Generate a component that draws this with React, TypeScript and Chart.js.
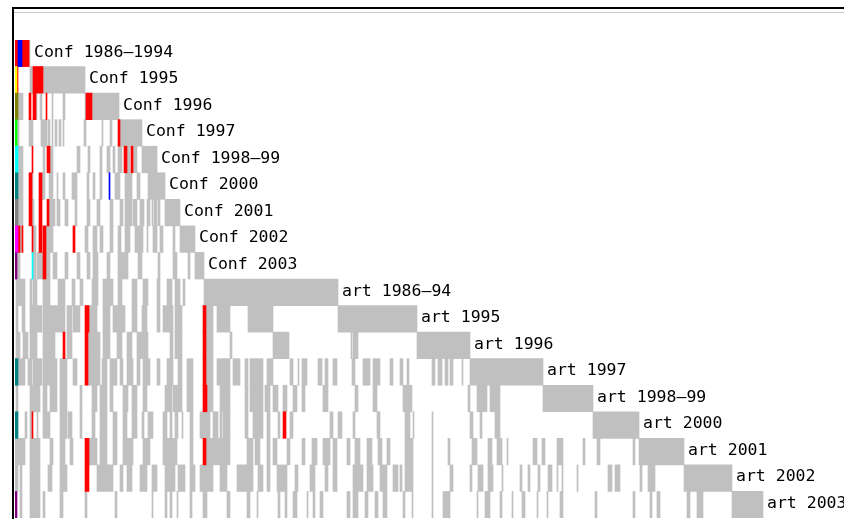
import { useEffect, useRef } from 'react';
import { Chart, registerables } from 'chart.js';

Chart.register(...registerables);

// Row (and column-group) labels, in matrix order
const rowLabels = [
  'Conf 1986–1994', 'Conf 1995', 'Conf 1996', 'Conf 1997', 'Conf 1998–99',
  'Conf 2000', 'Conf 2001', 'Conf 2002', 'Conf 2003',
  'art 1986–94', 'art 1995', 'art 1996', 'art 1997', 'art 1998–99',
  'art 2000', 'art 2001', 'art 2002', 'art 2003',
];

// Number of documents (columns) in each group
const groupSizes = [15, 55, 34, 23, 15, 8, 15, 15, 9, 134, 79, 53, 73, 50, 46, 45, 48, 31];

// Gray (co-citation) runs per row: flat [start, end, start, end, ...] in document index
const grayRuns: number[][] = [
  [],
  [],
  [3, 8, 21, 22, 25, 27, 37, 38, 48, 50],
  [2, 4, 14, 18, 26, 32, 33, 35, 37, 38, 40, 42, 44, 46, 48, 49, 69, 71, 87, 88, 95, 97],
  [3, 8, 28, 30, 35, 38, 62, 65, 73, 75, 85, 87, 92, 95, 98, 100, 103, 107, 112, 115, 118, 122],
  [3, 8, 17, 18, 27, 30, 34, 38, 42, 43, 48, 50, 57, 62, 72, 74, 78, 80, 85, 87, 100, 105, 110, 117, 122, 125, 133, 142],
  [3, 8, 17, 19, 34, 40, 42, 45, 50, 53, 60, 62, 72, 75, 82, 85, 95, 98, 105, 108, 110, 117, 118, 122, 125, 129, 132, 135, 137, 138, 139, 142, 143, 145],
  [5, 7, 18, 21, 31, 38, 70, 73, 78, 82, 85, 88, 95, 98, 103, 106, 110, 115, 120, 128, 132, 133, 138, 142, 145, 148, 158, 160],
  [2, 5, 18, 21, 22, 28, 31, 35, 38, 42, 50, 53, 62, 65, 72, 75, 78, 83, 92, 95, 103, 113, 123, 127, 143, 145, 158, 162, 173, 175],
  [1, 10, 15, 17, 18, 22, 28, 35, 43, 50, 57, 60, 65, 68, 77, 83, 88, 98, 103, 107, 117, 122, 128, 133, 142, 145, 152, 157, 160, 165, 168, 170],
  [1, 3, 7, 10, 15, 27, 28, 50, 52, 57, 58, 65, 74, 82, 88, 95, 98, 110, 117, 122, 127, 132, 142, 145, 148, 158, 160, 167, 191, 198, 202, 215, 233, 258],
  [1, 5, 8, 13, 15, 22, 28, 40, 52, 57, 73, 85, 88, 95, 102, 107, 112, 117, 122, 133, 155, 158, 160, 167, 191, 198, 215, 217, 258, 274, 336, 337, 338, 343],
  [3, 10, 13, 17, 18, 27, 28, 42, 45, 52, 58, 62, 73, 85, 87, 92, 95, 102, 105, 108, 112, 118, 122, 125, 128, 135, 142, 145, 152, 158, 163, 167, 172, 178, 191, 198, 202, 215, 218, 225, 230, 233, 235, 248, 252, 258, 275, 278, 283, 284, 287, 292, 303, 307, 310, 313, 318, 322, 337, 340, 348, 355, 358, 365, 375, 378, 385, 388, 392, 394, 417, 420, 423, 427, 430, 433, 435, 438, 447, 448],
  [1, 3, 15, 25, 28, 32, 35, 42, 45, 52, 65, 67, 77, 82, 85, 92, 95, 98, 108, 113, 117, 122, 128, 132, 150, 157, 158, 167, 172, 178, 192, 198, 205, 215, 230, 233, 235, 248, 250, 255, 258, 263, 268, 272, 278, 282, 287, 290, 308, 313, 340, 343, 358, 362, 388, 397, 453, 455, 462, 472, 475, 485],
  [10, 12, 15, 17, 22, 23, 28, 35, 45, 52, 53, 57, 65, 67, 77, 80, 85, 92, 98, 102, 108, 112, 117, 122, 127, 129, 133, 138, 148, 152, 155, 157, 160, 163, 167, 168, 175, 178, 185, 195, 198, 203, 205, 207, 208, 215, 230, 233, 238, 248, 252, 255, 263, 265, 275, 278, 315, 318, 323, 327, 338, 340, 362, 365, 390, 395, 398, 399, 417, 418, 455, 458, 465, 467, 480, 485],
  [0, 10, 15, 25, 35, 38, 45, 50, 55, 58, 74, 82, 85, 92, 98, 102, 108, 118, 128, 135, 148, 162, 175, 178, 191, 215, 232, 238, 240, 245, 252, 255, 258, 262, 272, 275, 287, 290, 297, 302, 308, 315, 318, 322, 332, 335, 340, 345, 352, 357, 363, 367, 372, 375, 390, 398, 417, 418, 433, 435, 457, 462, 473, 477, 482, 487, 492, 493, 518, 522, 527, 530, 542, 548, 568, 570, 582, 585, 618, 620],
  [0, 3, 5, 7, 15, 25, 33, 37, 45, 52, 82, 98, 105, 108, 112, 117, 125, 132, 137, 142, 150, 160, 163, 170, 175, 180, 185, 198, 205, 212, 222, 238, 243, 248, 252, 255, 262, 272, 280, 283, 295, 300, 310, 313, 318, 322, 338, 348, 352, 358, 365, 372, 378, 383, 385, 387, 390, 398, 417, 418, 435, 438, 455, 457, 463, 468, 473, 478, 487, 488, 505, 507, 513, 515, 523, 525, 533, 537, 542, 543, 547, 548, 562, 563, 593, 597, 600, 605, 625, 627, 633, 640],
  [5, 7, 15, 25, 28, 30, 45, 48, 70, 72, 100, 102, 137, 138, 150, 152, 155, 157, 162, 163, 175, 177, 188, 192, 212, 215, 232, 235, 242, 243, 263, 265, 270, 272, 278, 282, 292, 293, 298, 300, 305, 308, 332, 335, 338, 343, 350, 353, 360, 363, 368, 372, 388, 390, 397, 398, 417, 418, 428, 435, 462, 463, 470, 475, 485, 487, 497, 498, 507, 510, 522, 523, 532, 533, 545, 548, 580, 582, 618, 620, 635, 637, 642, 645, 672, 675, 682, 688],
];

// Red runs per row
const redRuns: number[][] = [
  [0, 3, 7, 14],
  [2, 3, 18, 28],
  [14, 16, 18, 21, 31, 32, 71, 77],
  [103, 105],
  [17, 18, 32, 35, 109, 112, 116, 118],
  [14, 17, 24, 27],
  [14, 17, 24, 27, 32, 34],
  [3, 5, 7, 8, 17, 18, 24, 27, 28, 31, 58, 60],
  [28, 31],
  [],
  [70, 74, 188, 191],
  [48, 50, 70, 73, 188, 191],
  [70, 73, 188, 191],
  [188, 192],
  [17, 18, 268, 271],
  [70, 74, 188, 191],
  [70, 74],
  [],
];

// Other coloured marks: [row, start, end, colour key]
const accentRuns: [number, number, number, string][] = [
  [0, 3, 7, 'blue'], [1, 0, 2, 'yellow'], [2, 0, 3, 'olive'], [3, 0, 2, 'lime'],
  [4, 0, 3, 'cyan'], [5, 0, 3, 'teal'], [5, 94, 95, 'blue'], [6, 0, 3, 'gray'],
  [7, 0, 3, 'magenta'], [8, 0, 2, 'purple'], [8, 17, 18, 'cyan'], [12, 0, 3, 'teal'],
  [14, 0, 3, 'teal'], [17, 0, 2, 'purple'],
];

const palette: Record<string, string> = {
  blue: '#0000ff', yellow: '#ffff00', olive: '#808000', lime: '#00ff00', cyan: '#00ffff',
  teal: '#008080', gray: '#808080', magenta: '#ff00ff', purple: '#800080',
};

export default function App() {
  const ref = useRef<HTMLCanvasElement>(null);

  useEffect(() => {
    if (!ref.current) return;
    const groupEnds: number[] = [];
    let acc = 0;
    groupSizes.forEach((s) => { acc += s; groupEnds.push(acc); });
    const groupStarts = groupEnds.map((e, i) => e - groupSizes[i]);
    const total = 829;

    const toBars = (runs: number[][]) =>
      runs.flatMap((row, r) => {
        const out: { y: string; x: [number, number] }[] = [];
        for (let i = 0; i < row.length; i += 2) out.push({ y: rowLabels[r], x: [row[i], row[i + 1]] });
        return out;
      });

    const accentBars = accentRuns.map(([r, a, b]) => ({ y: rowLabels[r], x: [a, b] as [number, number] }));
    const accentColors = accentRuns.map(([, , , c]) => palette[c]);
    const blocks = rowLabels.map((lab, r) => ({ y: lab, x: [groupStarts[r], groupEnds[r]] as [number, number] }));

    const common = { grouped: false, barPercentage: 1, categoryPercentage: 1, borderWidth: 0 };

    const labelPlugin = {
      id: 'rowLabels',
      afterDatasetsDraw(chart: any) {
        const { ctx } = chart;
        const xs = chart.scales.x;
        const ys = chart.scales.y;
        ctx.save();
        ctx.font = '16.5px "DejaVu Sans Mono"';
        ctx.fillStyle = '#000000';
        ctx.textBaseline = 'middle';
        ctx.textAlign = 'left';
        rowLabels.forEach((lab, i) => {
          ctx.fillText(lab, xs.getPixelForValue(groupEnds[i]) + 4, ys.getPixelForValue(i) - 1);
        });
        ctx.restore();
      },
    };

    const chart = new Chart(ref.current, {
      type: 'bar',
      data: {
        labels: rowLabels,
        datasets: [
          { label: 'other', data: accentBars, backgroundColor: accentColors, ...common },
          { label: 'red', data: toBars(redRuns), backgroundColor: '#ff0000', ...common },
          { label: 'gray', data: toBars(grayRuns), backgroundColor: '#c0c0c0', ...common },
          { label: 'block', data: blocks, backgroundColor: '#c0c0c0', ...common },
        ] as any,
      },
      options: {
        indexAxis: 'y',
        animation: false,
        responsive: false,
        devicePixelRatio: 1,
        layout: { padding: { left: 15, top: 40, right: 0, bottom: 1 } },
        scales: {
          x: { type: 'linear', min: 0, max: total, display: false },
          y: { type: 'category', labels: rowLabels, offset: true, display: false },
        },
        plugins: { legend: { display: false }, tooltip: { enabled: false } },
      },
      plugins: [labelPlugin],
    });
    return () => chart.destroy();
  }, []);

  return (
    <div style={{ position: 'absolute', left: 0, top: 0, width: 844, height: 519, background: '#ffffff', overflow: 'hidden' }}>
      <canvas ref={ref} width={844} height={519} style={{ display: 'block', width: 844, height: 519 }} />
      <div style={{ position: 'absolute', left: 12, top: 7, width: 832, height: 2, background: '#000000' }} />
      <div style={{ position: 'absolute', left: 12, top: 7, width: 2, height: 512, background: '#000000' }} />
      <div style={{ position: 'absolute', left: 14, top: 12, width: 830, height: 1, background: '#c8c8c8' }} />
    </div>
  );
}
